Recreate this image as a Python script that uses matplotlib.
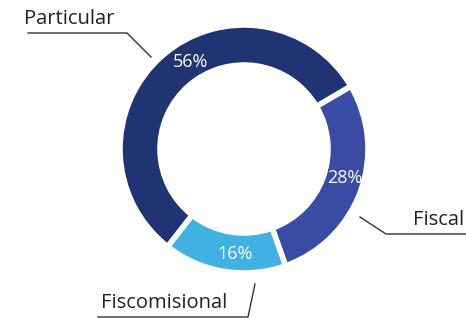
import matplotlib.pyplot as plt

labels = ["Particular", "Fiscal", "Fiscomisional"]
shares = [56, 28, 16]
colors = ["#203473", "#3a4ba3", "#3fb1e3"]

W, H = 466, 318
cx, cy = 244, H - 149
r_out, width = 124, 40

fig = plt.figure(figsize=(W / 100, H / 100), dpi=100)
ax = fig.add_axes([0, 0, 1, 1])

wedges, _, pcts = ax.pie(
    shares,
    colors=colors,
    center=(cx, cy),
    radius=r_out,
    startangle=232,
    counterclock=False,
    autopct="%d%%",
    pctdistance=(r_out - width / 2) / r_out,
    wedgeprops=dict(width=width, edgecolor="white", linewidth=4),
    textprops=dict(color="white", fontsize=13, family="Open Sans"),
)

ax.set_xlim(0, W)
ax.set_ylim(0, H)
ax.set_aspect("equal")
ax.axis("off")


def px(x, y):
    # pixel coords measured from the top-left corner
    return x, H - y


# percentage labels sit a bit off the wedge middles in the original
pct_pos = [(190, 62), (345, 178), (235, 254)]
for t, p in zip(pcts, pct_pos):
    t.set_position(px(*p))

lbl = dict(fontsize=14.5, color="#222222", family="Open Sans")
ax.text(*px(24, 19), labels[0], ha="left", va="center", **lbl)
ax.plot(*zip(px(28, 33), px(127, 33), px(151, 57)), color="#333333", lw=1)

ax.text(*px(413, 220), labels[1], ha="left", va="center", **lbl)
ax.plot(*zip(px(360, 217), px(386, 234), px(466, 234)), color="#333333", lw=1)

ax.text(*px(101, 303), labels[2], ha="left", va="center", **lbl)
ax.plot(*zip(px(98, 317), px(248, 317), px(255, 284)), color="#333333", lw=1)

plt.savefig("out.png", dpi=100)
plt.close()
